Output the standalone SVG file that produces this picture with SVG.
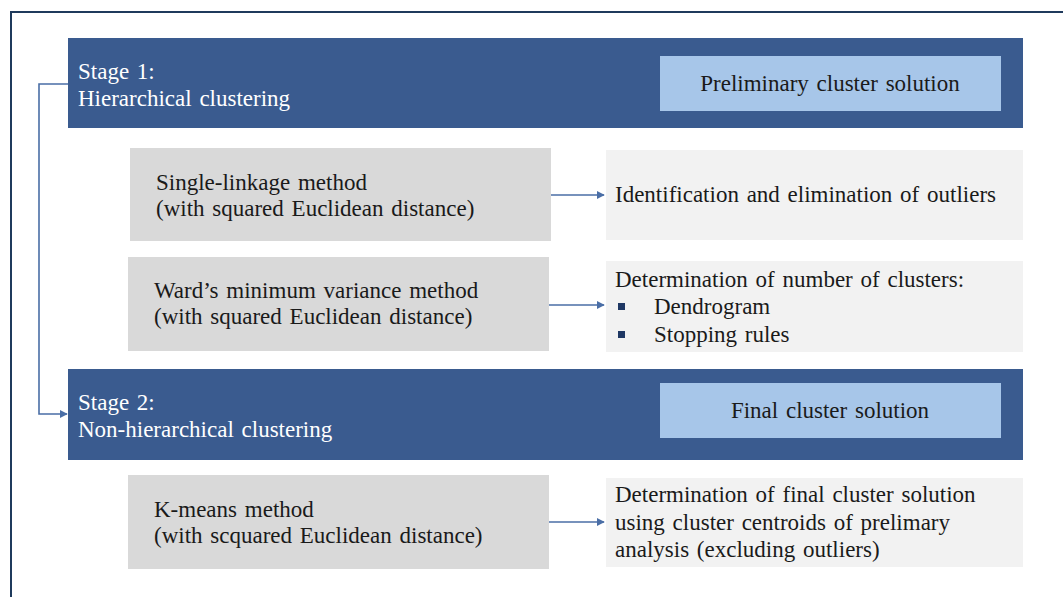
<svg xmlns="http://www.w3.org/2000/svg" width="1063" height="597" viewBox="0 0 1063 597">
<style>
  .band{fill:#3a5b8f}
  .sol{fill:#a7c6e9}
  .method{fill:#d9d9d9}
  .out{fill:#f2f2f2}
  text{font-family:"Liberation Serif","Times New Roman",serif;font-size:23px;fill:#1a1a1a;word-spacing:2px}
  .wt{fill:#ffffff}
  .conn{fill:none;stroke:#4a6ea6;stroke-width:1.6}
</style>
<defs>
  <marker id="arr" viewBox="0 0 10 10" refX="9" refY="5" markerWidth="8" markerHeight="8" markerUnits="userSpaceOnUse" orient="auto">
    <path d="M0,0 L10,5 L0,10 z" fill="#4a6ea6"/>
  </marker>
</defs>
<rect width="1063" height="597" fill="#ffffff"/>
<path d="M11,597 V12 H1063" fill="none" stroke="#1f3a5c" stroke-width="2"/>

<g id="stage1">
  <rect class="band" x="68" y="38" width="955" height="90"/>
  <text class="wt" x="78" y="79">Stage 1:</text>
  <text class="wt" x="78" y="106">Hierarchical clustering</text>
</g>
<g id="preliminary">
  <rect class="sol" x="660" y="56" width="341" height="55"/>
  <text x="830" y="91" text-anchor="middle">Preliminary cluster solution</text>
</g>
<g id="single-linkage">
  <rect class="method" x="130" y="148" width="421" height="93"/>
  <text x="156" y="190">Single-linkage method</text>
  <text x="156" y="216">(with squared Euclidean distance)</text>
</g>
<g id="outliers">
  <rect class="out" x="606" y="150" width="417" height="90"/>
  <text x="615" y="202">Identification and elimination of outliers</text>
</g>
<g id="ward">
  <rect class="method" x="128" y="257" width="421" height="94"/>
  <text x="154" y="298">Ward’s minimum variance method</text>
  <text x="154" y="324">(with squared Euclidean distance)</text>
</g>
<g id="num-clusters">
  <rect class="out" x="606" y="261" width="417" height="91"/>
  <text x="615" y="287">Determination of number of clusters:</text>
  <rect x="618" y="303" width="7" height="7" fill="#1f3864"/>
  <text x="654" y="314">Dendrogram</text>
  <rect x="618" y="331" width="7" height="7" fill="#1f3864"/>
  <text x="654" y="342">Stopping rules</text>
</g>
<g id="stage2">
  <rect class="band" x="68" y="369" width="955" height="91"/>
  <text class="wt" x="78" y="410">Stage 2:</text>
  <text class="wt" x="78" y="437">Non-hierarchical clustering</text>
</g>
<g id="final">
  <rect class="sol" x="660" y="383" width="341" height="55"/>
  <text x="830" y="418" text-anchor="middle">Final cluster solution</text>
</g>
<g id="kmeans">
  <rect class="method" x="128" y="475" width="421" height="94"/>
  <text x="154" y="517">K-means method</text>
  <text x="154" y="543">(with scquared Euclidean distance)</text>
</g>
<g id="final-determination">
  <rect class="out" x="606" y="478" width="417" height="89"/>
  <text x="615" y="502">Determination of final cluster solution</text>
  <text x="615" y="530">using cluster centroids of prelimary</text>
  <text x="615" y="557">analysis (excluding outliers)</text>
</g>

<g id="connectors">
  <path class="conn" d="M68,84 H39 V414 H67" marker-end="url(#arr)"/>
  <path class="conn" d="M551,195 H604" marker-end="url(#arr)"/>
  <path class="conn" d="M549,305 H604" marker-end="url(#arr)"/>
  <path class="conn" d="M549,522 H604" marker-end="url(#arr)"/>
</g>
</svg>
